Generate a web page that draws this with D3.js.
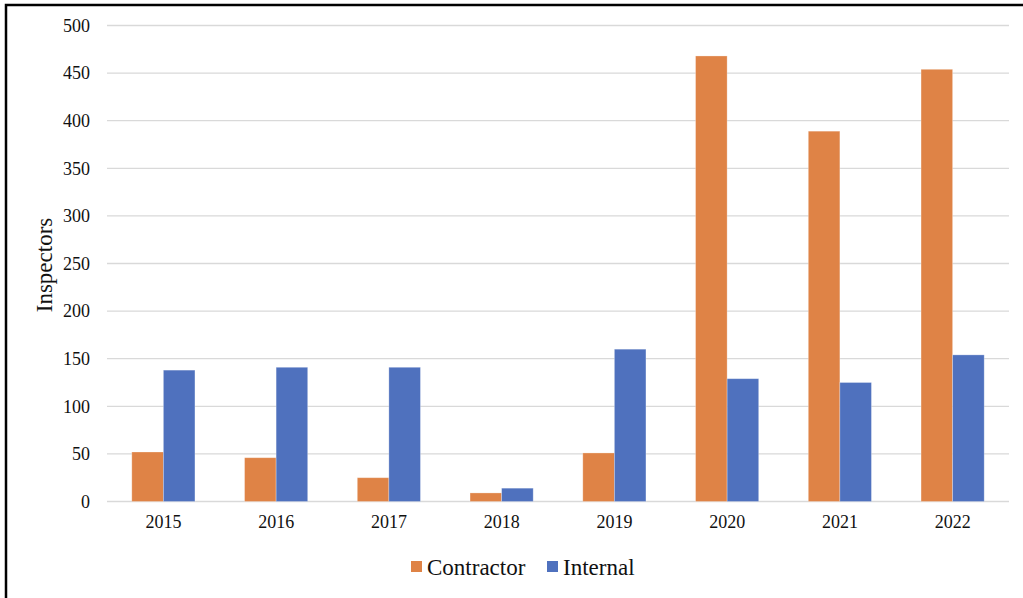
<!DOCTYPE html>
<html>
<head>
<meta charset="utf-8">
<script src="https://cdn.jsdelivr.net/npm/d3@7"></script>
<style>
  html, body { margin: 0; padding: 0; background: #fff; }
  svg { display: block; }
  text { font-family: "Liberation Serif", "Times New Roman", serif; fill: #111; }
</style>
</head>
<body>
<svg id="chart" width="1023" height="598"></svg>
<script>
// Inspectors by year, split into contractor and internal staff
const years = ["2015", "2016", "2017", "2018", "2019", "2020", "2021", "2022"];
const contractor = [52, 46, 25, 9, 51, 468, 389, 454];
const internal = [138, 141, 141, 14, 160, 129, 125, 154];
const seriesNames = ["Contractor", "Internal"];
const seriesColors = ["#DF8346", "#4F71BE"];
const yTicks = [0, 50, 100, 150, 200, 250, 300, 350, 400, 450, 500];

const svg = d3.select("#chart");
const W = 1023, H = 598;
const plot = { left: 107, right: 1009, top: 25.5, bottom: 501.5 };

// outer frame (runs past the right and bottom edges)
svg.append("rect")
  .attr("x", 6).attr("y", 5)
  .attr("width", W + 20).attr("height", H + 20)
  .attr("fill", "none").attr("stroke", "#000").attr("stroke-width", 2.5);

const x = d3.scaleBand().domain(years)
  .range([plot.left, plot.right])
  .paddingInner(0.44).paddingOuter(0.22);
const xs = d3.scaleBand().domain(seriesNames)
  .range([0, x.bandwidth()]);
const y = d3.scaleLinear().domain([0, 500]).range([plot.bottom, plot.top]);

// horizontal gridlines
svg.append("g").selectAll("line").data(yTicks).join("line")
  .attr("x1", plot.left).attr("x2", plot.right)
  .attr("y1", d => y(d)).attr("y2", d => y(d))
  .attr("stroke", "#d9d9d9").attr("stroke-width", 1.3);

// y axis labels
const yAxis = d3.axisLeft(y).tickValues(yTicks).tickSize(0).tickPadding(17);
const gy = svg.append("g").attr("transform", `translate(${plot.left},0)`).call(yAxis);
gy.select(".domain").remove();
gy.selectAll("text").attr("font-size", 18)
  .attr("font-family", "Liberation Serif, serif").attr("fill", "#111");

// x axis labels
const xAxis = d3.axisBottom(x).tickSize(0).tickPadding(14);
const gx = svg.append("g").attr("transform", `translate(0,${plot.bottom})`).call(xAxis);
gx.select(".domain").remove();
gx.selectAll("text").attr("font-size", 18)
  .attr("font-family", "Liberation Serif, serif").attr("fill", "#111");

// bars
const rows = years.map((yr, i) => ({ year: yr, values: [contractor[i], internal[i]] }));
const groups = svg.append("g").selectAll("g").data(rows).join("g")
  .attr("transform", d => `translate(${x(d.year)},0)`);
groups.selectAll("rect")
  .data(d => d.values.map((v, k) => ({ name: seriesNames[k], value: v, k })))
  .join("rect")
  .attr("x", d => xs(d.name))
  .attr("width", xs.bandwidth())
  .attr("y", d => y(d.value))
  .attr("height", d => y(0) - y(d.value))
  .attr("fill", d => seriesColors[d.k])
  .attr("stroke", "rgba(255,255,255,0.35)").attr("stroke-width", 0.8);

// y axis title
svg.append("text")
  .attr("transform", "translate(52,265) rotate(-90)")
  .attr("text-anchor", "middle")
  .attr("font-size", 23)
  .text("Inspectors");

// legend
const legendX = [411, 547];
const legend = svg.append("g").selectAll("g").data(seriesNames).join("g")
  .attr("transform", (d, i) => `translate(${legendX[i]},561)`);
legend.append("rect").attr("width", 11).attr("height", 11)
  .attr("fill", (d, i) => seriesColors[i]);
legend.append("text").attr("x", 16).attr("y", 14)
  .attr("font-size", 23).text(d => d);
</script>
</body>
</html>
